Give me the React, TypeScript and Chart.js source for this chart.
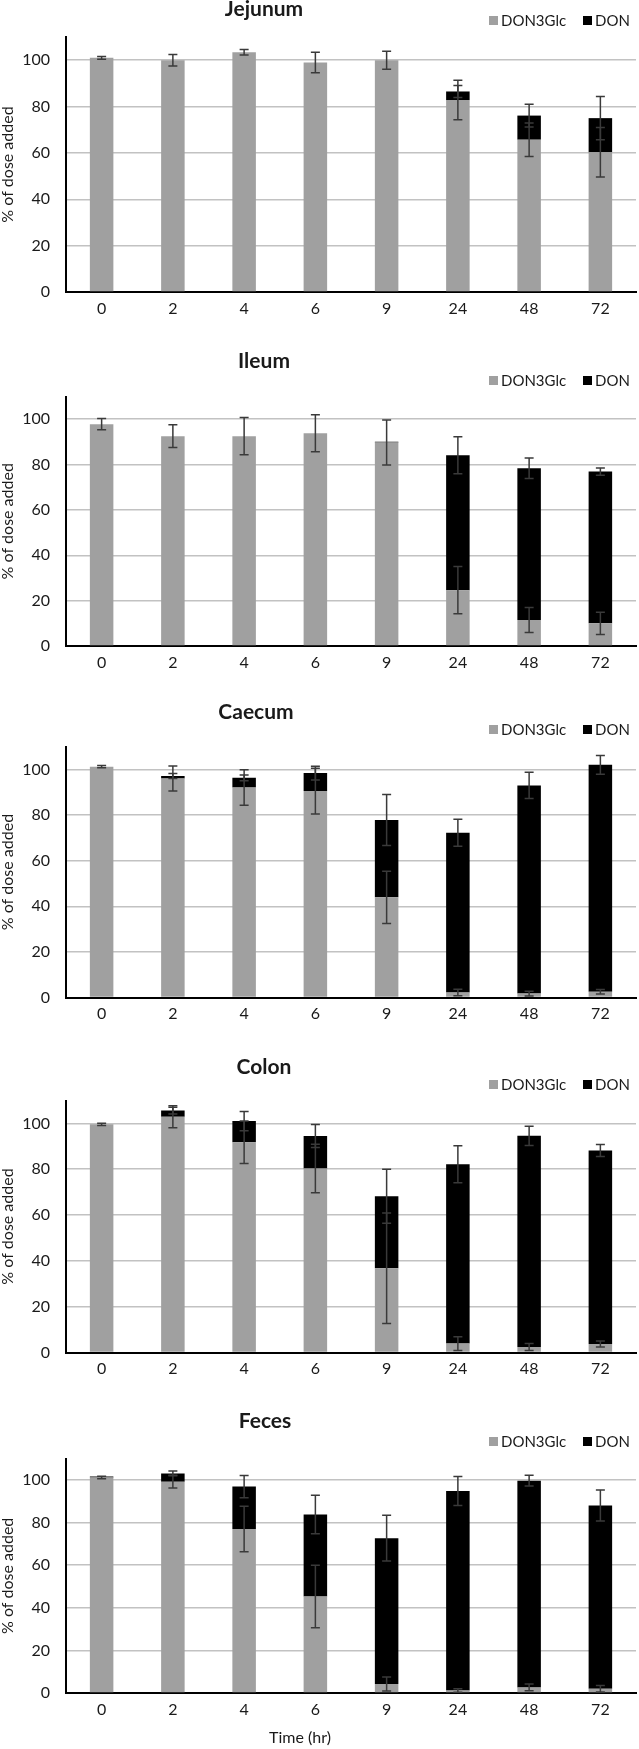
import React, { useEffect, useRef } from 'react';
import { Chart, registerables } from 'chart.js';

Chart.register(...registerables);

// ---------- data ----------
const categories = ['0', '2', '4', '6', '9', '24', '48', '72'];
const yTickValues = [0, 20, 40, 60, 80, 100];
const seriesNames = ['DON3Glc', 'DON'];

const jejunumGlc = [101.0, 100.0, 103.4, 99.0, 100.0, 82.8, 65.7, 60.3];
const jejunumGlcErr = [0.6, 2.5, 1.2, 4.4, 3.9, 8.5, 7.2, 10.7];
const jejunumDon = [0, 0, 0, 0, 0, 3.7, 10.4, 14.7];
const jejunumDonErr = [0, 0, 0, 0, 0, 2.6, 4.9, 9.3];

const ileumGlc = [97.8, 92.5, 92.5, 93.8, 89.7, 24.6, 11.5, 10.0];
const ileumGlcErr = [2.5, 5.0, 8.2, 8.2, 9.9, 10.4, 5.5, 4.9];
const ileumDon = [0, 0, 0, 0, 0.4, 59.5, 66.9, 66.9];
const ileumDonErr = [0, 0, 0, 0, 0, 8.2, 4.5, 1.6];

const caecumGlc = [101.2, 96.0, 92.1, 90.5, 43.9, 2.2, 1.7, 2.5];
const caecumGlcErr = [0.5, 5.5, 7.8, 10.0, 11.5, 1.4, 1.0, 1.0];
const caecumDon = [0, 1.1, 4.2, 7.9, 33.9, 70.0, 91.3, 99.5];
const caecumDonErr = [0, 1.1, 1.3, 3.0, 11.2, 5.9, 5.8, 4.1];

const colonGlc = [99.6, 102.9, 91.8, 80.3, 36.8, 3.9, 2.4, 3.7];
const colonGlcErr = [0.5, 4.8, 9.3, 10.6, 24.1, 3.0, 1.5, 1.3];
const colonDon = [0, 2.7, 9.2, 14.2, 31.4, 78.3, 92.2, 84.5];
const colonDonErr = [0, 1.5, 4.2, 5.0, 11.8, 8.1, 4.2, 2.6];

const fecesGlc = [101.2, 99.2, 77.0, 45.3, 4.2, 1.2, 2.6, 2.0];
const fecesGlcErr = [0.6, 3.0, 10.7, 14.7, 3.3, 0.8, 1.6, 1.5];
const fecesDon = [0.4, 3.9, 19.9, 38.5, 68.5, 93.6, 97.1, 86.0];
const fecesDonErr = [0, 1.1, 5.2, 9.0, 10.7, 6.8, 2.5, 7.3];

// ---------- styling ----------
const FONT = 'Lato, "Open Sans", sans-serif';
const GRAY = '#a0a0a0';
const BLACK = '#000000';
const TEXT = '#1a1a1a';
const GRID = '#c2c2c2';
const ERR = '#3a3a3a';
const WIDTH = 639;

type PanelDef = {
  title: string;
  glc: number[];
  glcErr: number[];
  don: number[];
  donErr: number[];
  top: number;
  height: number;
  padTop: number;
  padBottom: number;
  titleX: number;
  titleY: number;
  legendY: number;
  xTitle?: string;
};

const panels: PanelDef[] = [
  { title: 'Jejunum', glc: jejunumGlc, glcErr: jejunumGlcErr, don: jejunumDon, donErr: jejunumDonErr,
    top: 0, height: 345, padTop: 37, padBottom: 23, titleX: 264, titleY: 9, legendY: 21 },
  { title: 'Ileum', glc: ileumGlc, glcErr: ileumGlcErr, don: ileumDon, donErr: ileumDonErr,
    top: 345, height: 355, padTop: 51.5, padBottom: 24, titleX: 264, titleY: 16, legendY: 36 },
  { title: 'Caecum', glc: caecumGlc, glcErr: caecumGlcErr, don: caecumDon, donErr: caecumDonErr,
    top: 700, height: 352, padTop: 46.6, padBottom: 24.5, titleX: 256, titleY: 12, legendY: 30 },
  { title: 'Colon', glc: colonGlc, glcErr: colonGlcErr, don: colonDon, donErr: colonDonErr,
    top: 1052, height: 353, padTop: 48.5, padBottom: 22.5, titleX: 264, titleY: 15, legendY: 33 },
  { title: 'Feces', glc: fecesGlc, glcErr: fecesGlcErr, don: fecesDon, donErr: fecesDonErr,
    top: 1405, height: 344, padTop: 53.7, padBottom: 26, titleX: 265, titleY: 16, legendY: 37, xTitle: 'Time (hr)' },
];

function Panel({ def }: { def: PanelDef }) {
  const ref = useRef<HTMLCanvasElement | null>(null);

  useEffect(() => {
    if (!ref.current) return;

    const errorBars = {
      id: 'errorBars',
      afterDatasetsDraw(chart: any) {
        const ctx = chart.ctx;
        const yScale = chart.scales.y;
        const ds = chart.data.datasets;
        ctx.save();
        ctx.strokeStyle = ERR;
        ctx.lineWidth = 1.5;
        for (let j = 0; j < chart.data.labels.length; j++) {
          let cum = 0;
          for (let i = 0; i < ds.length; i++) {
            cum += ds[i].data[j];
            const e = ds[i].errors[j];
            if (!e) continue;
            const x = chart.getDatasetMeta(i).data[j].x;
            const y1 = yScale.getPixelForValue(cum + e);
            const y2 = yScale.getPixelForValue(cum - e);
            ctx.beginPath();
            ctx.moveTo(x, y1);
            ctx.lineTo(x, y2);
            ctx.moveTo(x - 4.5, y1);
            ctx.lineTo(x + 4.5, y1);
            ctx.moveTo(x - 4.5, y2);
            ctx.lineTo(x + 4.5, y2);
            ctx.stroke();
          }
        }
        ctx.restore();
      },
    };

    const decor = {
      id: 'panelDecor',
      afterDraw(chart: any) {
        const ctx = chart.ctx;
        ctx.save();
        ctx.fillStyle = TEXT;
        ctx.textBaseline = 'middle';
        ctx.textAlign = 'center';
        ctx.font = `bold 21px ${FONT}`;
        ctx.fillText(def.title, def.titleX, def.titleY);
        // legend
        ctx.font = `15px ${FONT}`;
        ctx.textAlign = 'left';
        const ds = chart.data.datasets;
        const legendX = [489, 583];
        ds.forEach((d: any, i: number) => {
          ctx.fillStyle = d.backgroundColor;
          ctx.fillRect(legendX[i], def.legendY - 5, 9, 9);
          ctx.fillStyle = TEXT;
          ctx.fillText(d.label, legendX[i] + 12, def.legendY);
        });
        if (def.xTitle) {
          ctx.font = `16px ${FONT}`;
          ctx.textAlign = 'center';
          ctx.fillText(def.xTitle, 300, 333);
        }
        ctx.restore();
      },
    };

    const chart = new Chart(ref.current, {
      type: 'bar',
      data: {
        labels: categories,
        datasets: [
          { label: seriesNames[0], data: def.glc, errors: def.glcErr, backgroundColor: GRAY, stack: 's',
            barPercentage: 0.33, categoryPercentage: 1 } as any,
          { label: seriesNames[1], data: def.don, errors: def.donErr, backgroundColor: BLACK, stack: 's',
            barPercentage: 0.33, categoryPercentage: 1 } as any,
        ],
      },
      options: {
        responsive: false,
        animation: false,
        devicePixelRatio: 1,
        layout: { padding: { top: def.padTop, bottom: def.padBottom, left: 0, right: 3 } },
        plugins: {
          legend: { display: false },
          title: { display: false },
          tooltip: { enabled: false },
        },
        scales: {
          x: {
            stacked: true,
            grid: { display: false, drawTicks: false },
            border: { display: true, color: '#000', width: 2 },
            ticks: { color: TEXT, font: { family: FONT, size: 16 }, padding: 7, maxRotation: 0 },
            afterFit: (s: any) => { s.height = 30; },
          },
          y: {
            stacked: true,
            min: 0,
            max: 110,
            grid: { color: GRID, lineWidth: 1.5, drawTicks: false },
            border: { display: true, color: '#000', width: 2 },
            ticks: { color: TEXT, font: { family: FONT, size: 16 }, padding: 16 },
            afterBuildTicks: (s: any) => { s.ticks = yTickValues.map((v) => ({ value: v })); },
            afterFit: (s: any) => { s.width = 66; },
            title: {
              display: true,
              text: '% of dose added',
              color: TEXT,
              font: { family: FONT, size: 16, lineHeight: 1 },
              padding: { top: 0, bottom: 0 },
            },
          },
        },
      } as any,
      plugins: [errorBars, decor],
    });
    return () => chart.destroy();
  }, [def]);

  return (
    <canvas
      ref={ref}
      width={WIDTH}
      height={def.height}
      style={{ position: 'absolute', left: 0, top: def.top, width: WIDTH, height: def.height, display: 'block' }}
    />
  );
}

export default function App() {
  return (
    <div style={{ position: 'absolute', left: 0, top: 0, width: WIDTH, height: 1749, background: '#fff' }}>
      {panels.map((p) => (
        <Panel key={p.title} def={p} />
      ))}
    </div>
  );
}
